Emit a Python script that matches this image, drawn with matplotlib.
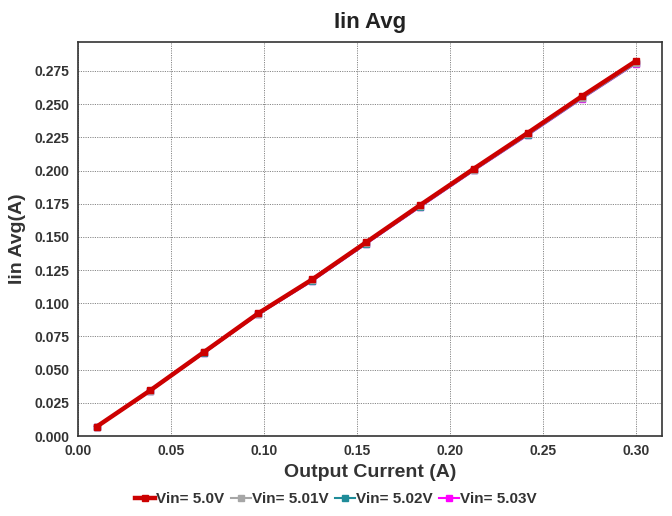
import matplotlib
matplotlib.use("Agg")
import matplotlib.pyplot as plt
from matplotlib.ticker import MultipleLocator, FormatStrFormatter

plt.rcParams['font.family'] = ['Liberation Sans', 'DejaVu Sans']

x = [0.010, 0.039, 0.068, 0.097, 0.126, 0.155, 0.184, 0.213, 0.242, 0.271, 0.300]
vin_50 = [0.0070, 0.0345, 0.0635, 0.0925, 0.1180, 0.1460, 0.1740, 0.2015, 0.2285, 0.2560, 0.2825]
vin_501 = [0.0068, 0.0342, 0.0630, 0.0920, 0.1172, 0.1452, 0.1730, 0.2005, 0.2273, 0.2547, 0.2810]
vin_502 = [0.0067, 0.0341, 0.0629, 0.0918, 0.1170, 0.1450, 0.1728, 0.2003, 0.2270, 0.2544, 0.2808]
vin_503 = [0.0066, 0.0340, 0.0628, 0.0917, 0.1168, 0.1448, 0.1726, 0.2001, 0.2268, 0.2542, 0.2806]
labels = ["Vin= 5.0V", "Vin= 5.01V", "Vin= 5.02V", "Vin= 5.03V"]
colors = ["#CC0000", "#A6A6A6", "#1F8C99", "#FF00FF"]

fig = plt.figure(figsize=(6.72, 5.16), dpi=100)
ax = fig.add_axes([0.116, 0.155, 0.869, 0.764])

series = [vin_50, vin_501, vin_502, vin_503]
widths = [3.2, 1.5, 1.5, 1.5]
msizes = [5, 4, 4, 4]
handles = [None] * 4
for i in [3, 2, 1, 0]:
    h, = ax.plot(x, series[i], color=colors[i], lw=widths[i], marker='s',
                 ms=msizes[i], label=labels[i], zorder=3 + (3 - i))
    handles[i] = h

ax.set_xlim(0, 0.314)
ax.set_ylim(0, 0.297)
ax.xaxis.set_major_locator(MultipleLocator(0.05))
ax.yaxis.set_major_locator(MultipleLocator(0.025))
ax.xaxis.set_major_formatter(FormatStrFormatter('%.2f'))
ax.yaxis.set_major_formatter(FormatStrFormatter('%.3f'))
ax.grid(True, color='#888888', linestyle=(0, (1.2, 1.2)), linewidth=0.7)
ax.tick_params(length=0, labelsize=10, labelcolor='#333333', pad=6)
for lab in ax.get_xticklabels() + ax.get_yticklabels():
    lab.set_fontweight('bold')
for s in ax.spines.values():
    s.set_color('#333333')
    s.set_linewidth(1.2)

ax.set_title("Iin Avg", fontsize=16, fontweight='bold', color='#222222', pad=10)
ax.set_xlabel("Output Current (A)", fontsize=14, fontweight='bold', color='#333333', labelpad=4)
ax.set_ylabel("Iin Avg(A)", fontsize=14, fontweight='bold', color='#333333', labelpad=6)

leg = fig.legend(handles=handles, labels=labels, loc='lower center',
                 bbox_to_anchor=(0.5, -0.008), ncol=4, frameon=False,
                 handlelength=1.3, handletextpad=0.1, columnspacing=0.4,
                 prop={'weight': 'bold', 'size': 11})
for t in leg.get_texts():
    t.set_color('#333333')

fig.savefig("out.png", dpi=100)
